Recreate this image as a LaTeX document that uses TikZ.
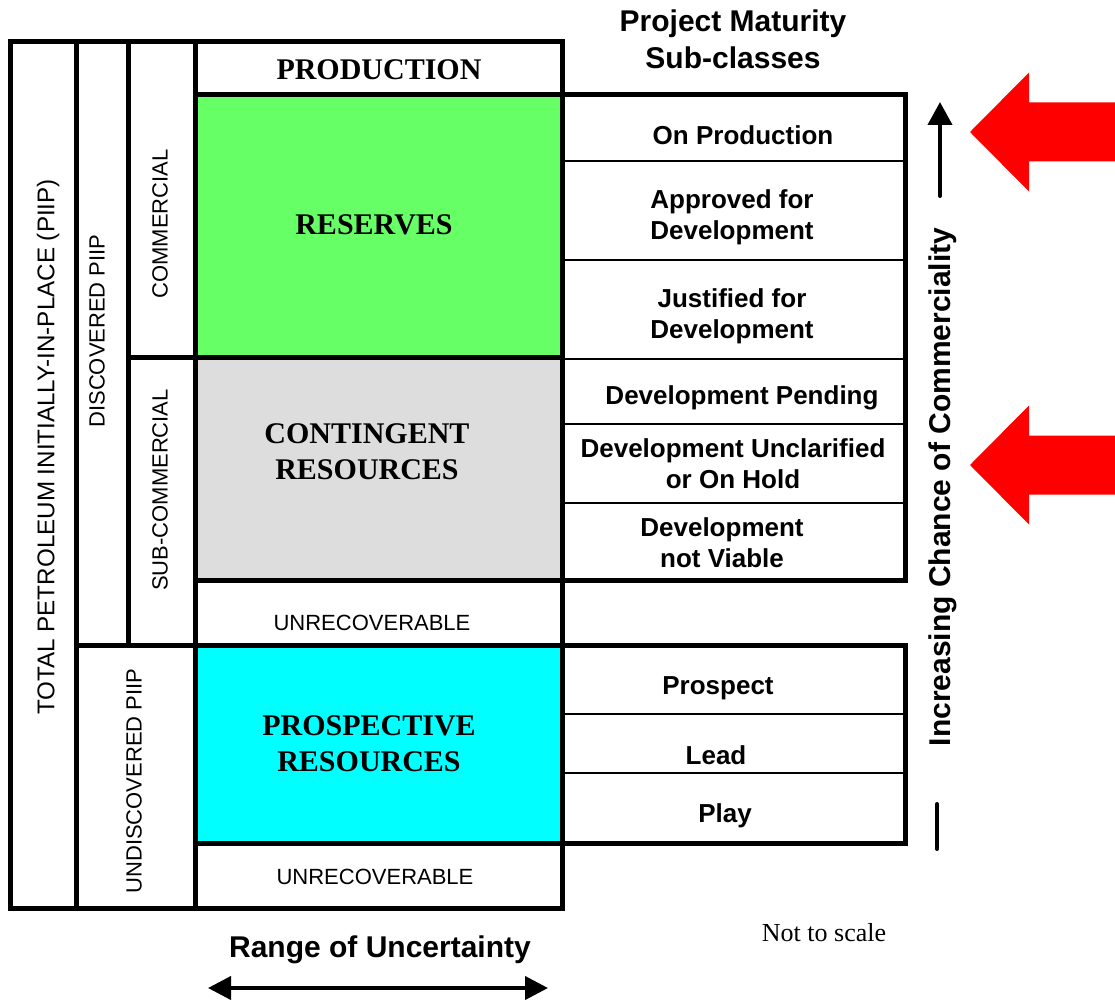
\documentclass[tikz,border=0pt]{standalone}
\usepackage{fontspec}
\setmainfont{Liberation Serif}
\setsansfont{Liberation Sans}
\usetikzlibrary{arrows.meta}

\definecolor{resgreen}{RGB}{102,255,102}
\definecolor{contgrey}{RGB}{221,221,221}
\definecolor{prospcyan}{RGB}{0,255,255}

\newcommand{\classfont}{\rmfamily\bfseries\fontsize{30}{36}\selectfont}
\newcommand{\rowfont}{\sffamily\bfseries\fontsize{26}{31}\selectfont}
\newcommand{\sidefont}{\sffamily\fontsize{22}{26}\selectfont}
\newcommand{\headfont}{\sffamily\bfseries\fontsize{30}{37}\selectfont}

\begin{document}
\begin{tikzpicture}[x=1pt, y=-1pt,
        every node/.style={inner sep=0pt, align=center},
        thickline/.style={line width=5pt},
        thinline/.style={line width=1.5pt},
        sidelabel/.style={font=\sidefont, rotate=90},
        classlabel/.style={font=\classfont},
        rowlabel/.style={font=\rowfont}]
    \useasboundingbox (0,0) rectangle (1115,1003);

    % resource classes
    \fill[resgreen] (195,95) rectangle (562,357);
    \fill[contgrey] (195,357) rectangle (562,580);
    \fill[prospcyan] (195,645) rectangle (562,843);

    % sub-class rows
    \foreach \ry in {161,260,359,424,503,714,773}
        \draw[thinline] (562,\ry) -- (905,\ry);

    % frame and dividers
    \draw[thickline] (10,42) rectangle (562,908);
    \draw[thickline] (76,42) -- (76,908);
    \draw[thickline] (128,42) -- (128,645);
    \draw[thickline] (195,42) -- (195,908);
    \draw[thickline] (128,357) -- (562,357);
    \draw[thickline] (76,645) -- (562,645);
    \foreach \ry in {95,580,843}
        \draw[thickline] (195,\ry) -- (562,\ry);
    \draw[thickline] (562,95) rectangle (905,580);
    \draw[thickline] (562,645) rectangle (905,843);

    % side labels
    \node[sidelabel, font=\sffamily\fontsize{24.2}{28}\selectfont] (total) at (48,447) {TOTAL PETROLEUM INITIALLY-IN-PLACE (PIIP)};
    \node[sidelabel] (disc) at (97,331) {DISCOVERED PIIP};
    \node[sidelabel] (comm) at (160,224) {COMMERCIAL};
    \node[sidelabel] (subcomm) at (160,490) {SUB-COMMERCIAL};
    \node[sidelabel] (undisc) at (134,781) {UNDISCOVERED PIIP};

    % class labels
    \node[classlabel] (prod) at (379,70) {PRODUCTION};
    \node[classlabel] (res) at (374,225) {RESERVES};
    \node[classlabel] (cont) at (367,452) {CONTINGENT\\RESOURCES};
    \node[classlabel] (pros) at (369,744) {PROSPECTIVE\\RESOURCES};
    \node[font=\sidefont] (unrecA) at (372,623) {UNRECOVERABLE};
    \node[font=\sidefont] (unrecB) at (375,877) {UNRECOVERABLE};

    % sub-classes
    \node[font=\headfont] (subhead) at (733,39) {Project Maturity\\Sub-classes};
    \node[rowlabel] (onprod) at (743,135) {On Production};
    \node[rowlabel] (approved) at (732,217) {Approved for\\Development};
    \node[rowlabel] (justified) at (732,316) {Justified for\\Development};
    \node[rowlabel] (pending) at (742,398) {Development Pending};
    \node[rowlabel] (unclar) at (733,464) {Development Unclarified\\or On Hold};
    \node[rowlabel] (notviable) at (722,543) {Development\\not Viable};
    \node[rowlabel] (prospect) at (718,688) {Prospect};
    \node[rowlabel] (lead) at (716,755) {Lead};
    \node[rowlabel] (play) at (725,816) {Play};

    % chance of commerciality axis
    \node[font=\headfont, rotate=90] (chance) at (943,487) {Increasing Chance of Commerciality};
    \coordinate (cbot) at (940,196);
    \coordinate (ctop) at (940,102);
    \draw[line width=4pt, line cap=round, -{Triangle[length=23pt,width=24pt]}] (cbot) -- (ctop);
    \coordinate (barA) at (937,804);
    \coordinate (barB) at (937,849);
    \draw[line width=4pt, line cap=round] (barA) -- (barB);

    % range of uncertainty
    \node[font=\headfont] (range) at (380,950) {Range of Uncertainty};
    \coordinate (rleft) at (208,988);
    \coordinate (rright) at (548,988);
    \draw[line width=4pt, {Triangle[length=23pt,width=23pt]}-{Triangle[length=23pt,width=23pt]}] (rleft) -- (rright);

    \node[font=\rmfamily\fontsize{26}{30}\selectfont] (scale) at (824,933) {Not to scale};

    % red pointers
    \foreach \ty in {132,465}
        \fill[red] (970,\ty) -- (1029,\ty-59.5) -- (1029,\ty-29.5) -- (1115,\ty-29.5)
            -- (1115,\ty+29.5) -- (1029,\ty+29.5) -- (1029,\ty+59.5) -- cycle;
\end{tikzpicture}
\end{document}
